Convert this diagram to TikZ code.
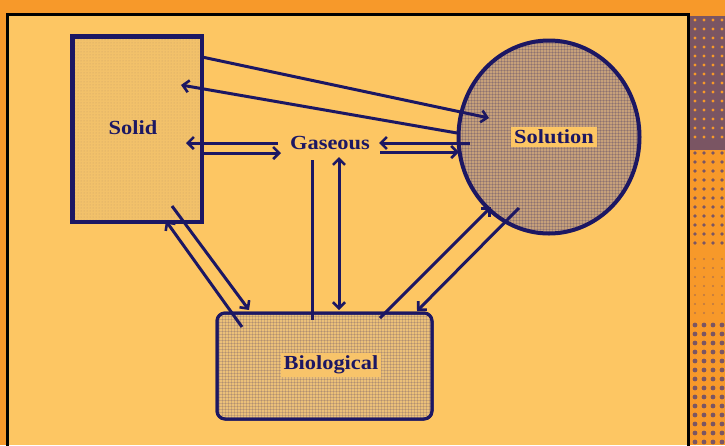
\documentclass[tikz,border=0pt]{standalone}
\usepackage{fontspec}
\setmainfont{Liberation Serif}[FakeStretch=1.12]
\usetikzlibrary{arrows.meta,shapes.geometric,patterns}
\definecolor{outer}{HTML}{F7992A}
\definecolor{inner}{HTML}{FDC663}
\definecolor{navy}{HTML}{1C1763}
\definecolor{purp}{HTML}{7A5563}
\definecolor{solidfill}{HTML}{F2C16A}
\definecolor{solfill}{HTML}{C6A07A}
\definecolor{biofill}{HTML}{EBC079}
\tikzset{
  conn/.style={draw=navy, line width=3pt},
  arr/.style={conn, -{Straight Barb[length=6pt,width=12pt,line width=2.6pt]}},
  darr/.style={conn, {Straight Barb[length=6pt,width=12pt,line width=2.6pt]}-{Straight Barb[length=6pt,width=12pt,line width=2.6pt]}},
  lbl/.style={font=\bfseries\fontsize{20}{22}\selectfont, text=navy, inner sep=2pt},
  boxlbl/.style={lbl, fill=inner, inner sep=3pt},
}
\begin{document}
\begin{tikzpicture}[x=1pt,y=-1pt]
\useasboundingbox (0,0) rectangle (725,445);
% frame
\fill[outer] (0,0) rectangle (725,445);
\fill[inner] (7,14) rectangle (688,445);
\draw[black, line width=3pt] (7.5,446) -- (7.5,14.5) -- (688,14.5) -- (688,446);
% right halftone strip
\fill[purp] (690,16) rectangle (725,150);
\fill[outer] (690,150) rectangle (725,445);
\foreach \yy in {20,29,...,145} {\foreach \xx in {695,704,...,722} {\fill[outer] (\xx,\yy) circle (1.6);}}
\foreach \yy in {153,162,...,250} {\foreach \xx in {695,704,...,722} {\fill[purp] (\xx,\yy) circle (1.8);}}
\foreach \yy in {259,268,...,320} {\foreach \xx in {695,704,...,722} {\fill[purp!50!outer] (\xx,\yy) circle (1.2);}}
\foreach \yy in {325,334,...,445} {\foreach \xx in {695,704,...,722} {\fill[purp] (\xx,\yy) circle (2.4);}}
% Solid
\node[draw=navy, line width=3pt, fill=solidfill, minimum width=128pt, minimum height=184pt, inner sep=0pt] (solid) at (137,129) {};
\fill[pattern=dots, pattern color=navy, opacity=0.18] (solid.south west) rectangle (solid.north east);
\draw[navy, line width=3pt] (solid.south west) rectangle (solid.north east);
\node[lbl] (solidlab) at (133,128) {Solid};
% Solution
\node[ellipse, draw=navy, line width=3pt, fill=solfill, minimum width=182pt, minimum height=194pt, inner sep=0pt] (solution) at (549,137) {};
\fill[pattern=grid, pattern color=navy, opacity=0.18] (549,137) ellipse (90 and 96);
\draw[navy, line width=3pt] (549,137) ellipse (90 and 96);
\node[boxlbl] (sollab) at (554,137) {Solution};
% Biological
\node[draw=navy, line width=3pt, fill=biofill, rounded corners=8pt, minimum width=215pt, minimum height=106pt, inner sep=0pt] (bio) at (324.5,366) {};
\fill[pattern=grid, pattern color=navy, opacity=0.15, rounded corners=8pt] (217,313) rectangle (432,419);
\draw[navy, line width=3pt, rounded corners=8pt] (217,313) rectangle (432,419);
\node[boxlbl, fill=inner!70!biofill] (biolab) at (331,365) {Biological};
% Gaseous
\node[lbl] (gas) at (330,143) {Gaseous};

% connector endpoints
\coordinate (p1a) at (202,57);  \coordinate (p1b) at (489,118);
\coordinate (p2a) at (457,133); \coordinate (p2b) at (181,85);
\coordinate (p3a) at (278,143); \coordinate (p3b) at (186,143);
\coordinate (p4a) at (201,153); \coordinate (p4b) at (281,153);
\coordinate (p5a) at (470,143); \coordinate (p5b) at (379,143);
\coordinate (p6a) at (380,152); \coordinate (p6b) at (459,152);
\coordinate (p7a) at (312,160); \coordinate (p7b) at (312,320);
\coordinate (p8a) at (339,157); \coordinate (p8b) at (339,310);
\coordinate (p9a) at (172,206); \coordinate (p9b) at (249,310);
\coordinate (p10a) at (242,327); \coordinate (p10b) at (166,221);
\coordinate (p11a) at (380,318); \coordinate (p11b) at (491,207);
\coordinate (p12a) at (519,208); \coordinate (p12b) at (417,311);

\draw[arr] (p1a) -- (p1b);
\draw[arr] (p2a) -- (p2b);
\draw[arr] (p3a) -- (p3b);
\draw[arr] (p4a) -- (p4b);
\draw[arr] (p5a) -- (p5b);
\draw[arr] (p6a) -- (p6b);
\draw[conn] (p7a) -- (p7b);
\draw[darr] (p8a) -- (p8b);
\draw[arr] (p9a) -- (p9b);
\draw[arr] (p10a) -- (p10b);
\draw[arr] (p11a) -- (p11b);
\draw[arr] (p12a) -- (p12b);
\end{tikzpicture}
\end{document}
